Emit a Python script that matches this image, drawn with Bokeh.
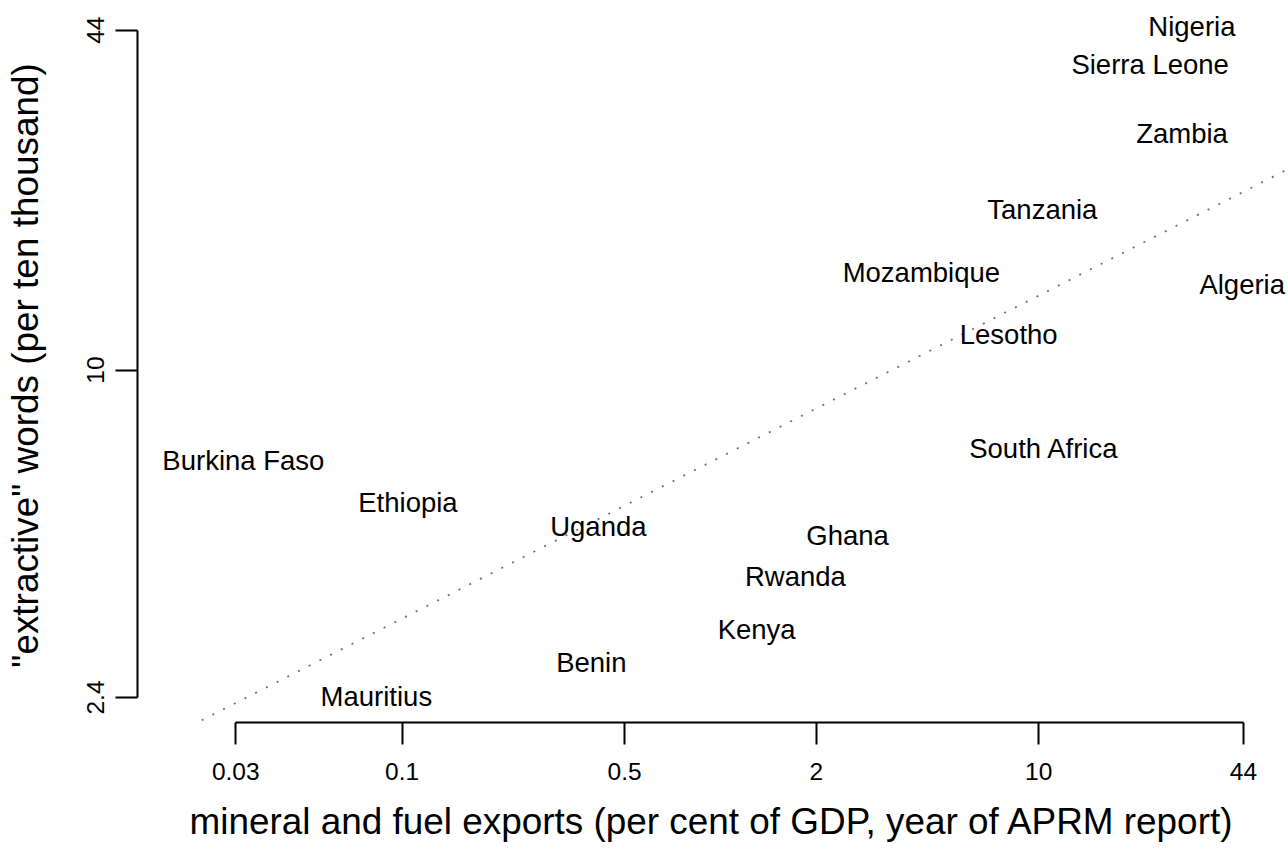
import numpy as np
from bokeh.plotting import figure
from bokeh.models import ColumnDataSource, FixedTicker, Range1d
from bokeh.core.properties import value
from bokeh.embed import file_html
from bokeh.resources import INLINE

# ---- data ----
countries = ["Nigeria", "Sierra Leone", "Zambia", "Tanzania", "Mozambique",
             "Algeria", "Lesotho", "South Africa", "Burkina Faso", "Ethiopia",
             "Uganda", "Ghana", "Rwanda", "Kenya", "Benin", "Mauritius"]
exports = [30.3, 22.4, 28.2, 10.27, 4.28,
           43.6, 8.05, 10.4, 0.0317, 0.1043,
           0.4136, 2.51, 1.72, 1.30, 0.393, 0.083]
words = [44.7, 37.9, 28.05, 20.1, 15.3,
         14.5, 11.7, 7.11, 6.75, 5.61,
         5.06, 4.87, 4.07, 3.23, 2.80, 2.41]

x_ticks = [0.03, 0.1, 0.5, 2, 10, 44]
x_tick_labels = ["0.03", "0.1", "0.5", "2", "10", "44"]
y_ticks = [2.4, 10, 44]
y_tick_labels = ["2.4", "10", "44"]

x_title = "mineral and fuel exports (per cent of GDP, year of APRM report)"
y_title = '"extractive" words (per ten thousand)'

FONT = "Liberation Sans"

x_range = Range1d(0.01474, 60.07)
y_range = Range1d(2.152, 48.37)

p = figure(x_axis_type="log", y_axis_type="log",
           x_range=x_range, y_range=y_range,
           frame_width=1149, frame_height=714,
           min_border_left=137, min_border_right=2,
           min_border_top=8, min_border_bottom=126,
           output_backend="svg", toolbar_location=None,
           background_fill_color="white", border_fill_color="white")
p.outline_line_color = None
p.grid.visible = False

# regression line (OLS in log-log space), spanning the full frame
slope, intercept = np.polyfit(np.log10(exports), np.log10(words), 1)
lx = np.array([x_range.start, x_range.end])
ly = 10 ** (intercept + slope * np.log10(lx))
p.line(lx, ly, line_color="#707070", line_width=1.8, line_dash="2 10")

src = ColumnDataSource(dict(x=exports, y=words, t=countries))
p.text(x="x", y="y", text="t", source=src,
       text_font=value(FONT), text_font_size="27.5px",
       text_align="center", text_baseline="middle", text_color="black")

# axes
for ax in (p.xaxis[0], p.yaxis[0]):
    ax.axis_line_width = 2
    ax.axis_line_color = "black"
    ax.major_tick_line_width = 2
    ax.major_tick_line_color = "black"
    ax.major_tick_out = 22
    ax.major_tick_in = 0
    ax.minor_tick_line_color = None
    ax.major_label_text_font = FONT
    ax.major_label_text_font_size = "24.5px"
    ax.major_label_text_color = "black"
    ax.axis_label_text_font = FONT
    ax.axis_label_text_font_size = "36.9px"
    ax.axis_label_text_font_style = "normal"
    ax.axis_label_text_color = "black"

xa = p.xaxis[0]
xa.ticker = FixedTicker(ticks=x_ticks)
xa.major_label_overrides = {t: l for t, l in zip(x_ticks, x_tick_labels)}
xa.bounds = (x_ticks[0], x_ticks[-1])
xa.major_label_standoff = 18
xa.axis_label = x_title
xa.axis_label_standoff = 18

ya = p.yaxis[0]
ya.ticker = FixedTicker(ticks=y_ticks)
ya.major_label_overrides = {t: l for t, l in zip(y_ticks, y_tick_labels)}
ya.bounds = (y_ticks[0], y_ticks[-1])
ya.major_label_orientation = "vertical"
ya.major_label_standoff = 11
ya.axis_label = y_title
ya.axis_label_standoff = 39

open("out.html", "w").write(file_html(p, INLINE))
